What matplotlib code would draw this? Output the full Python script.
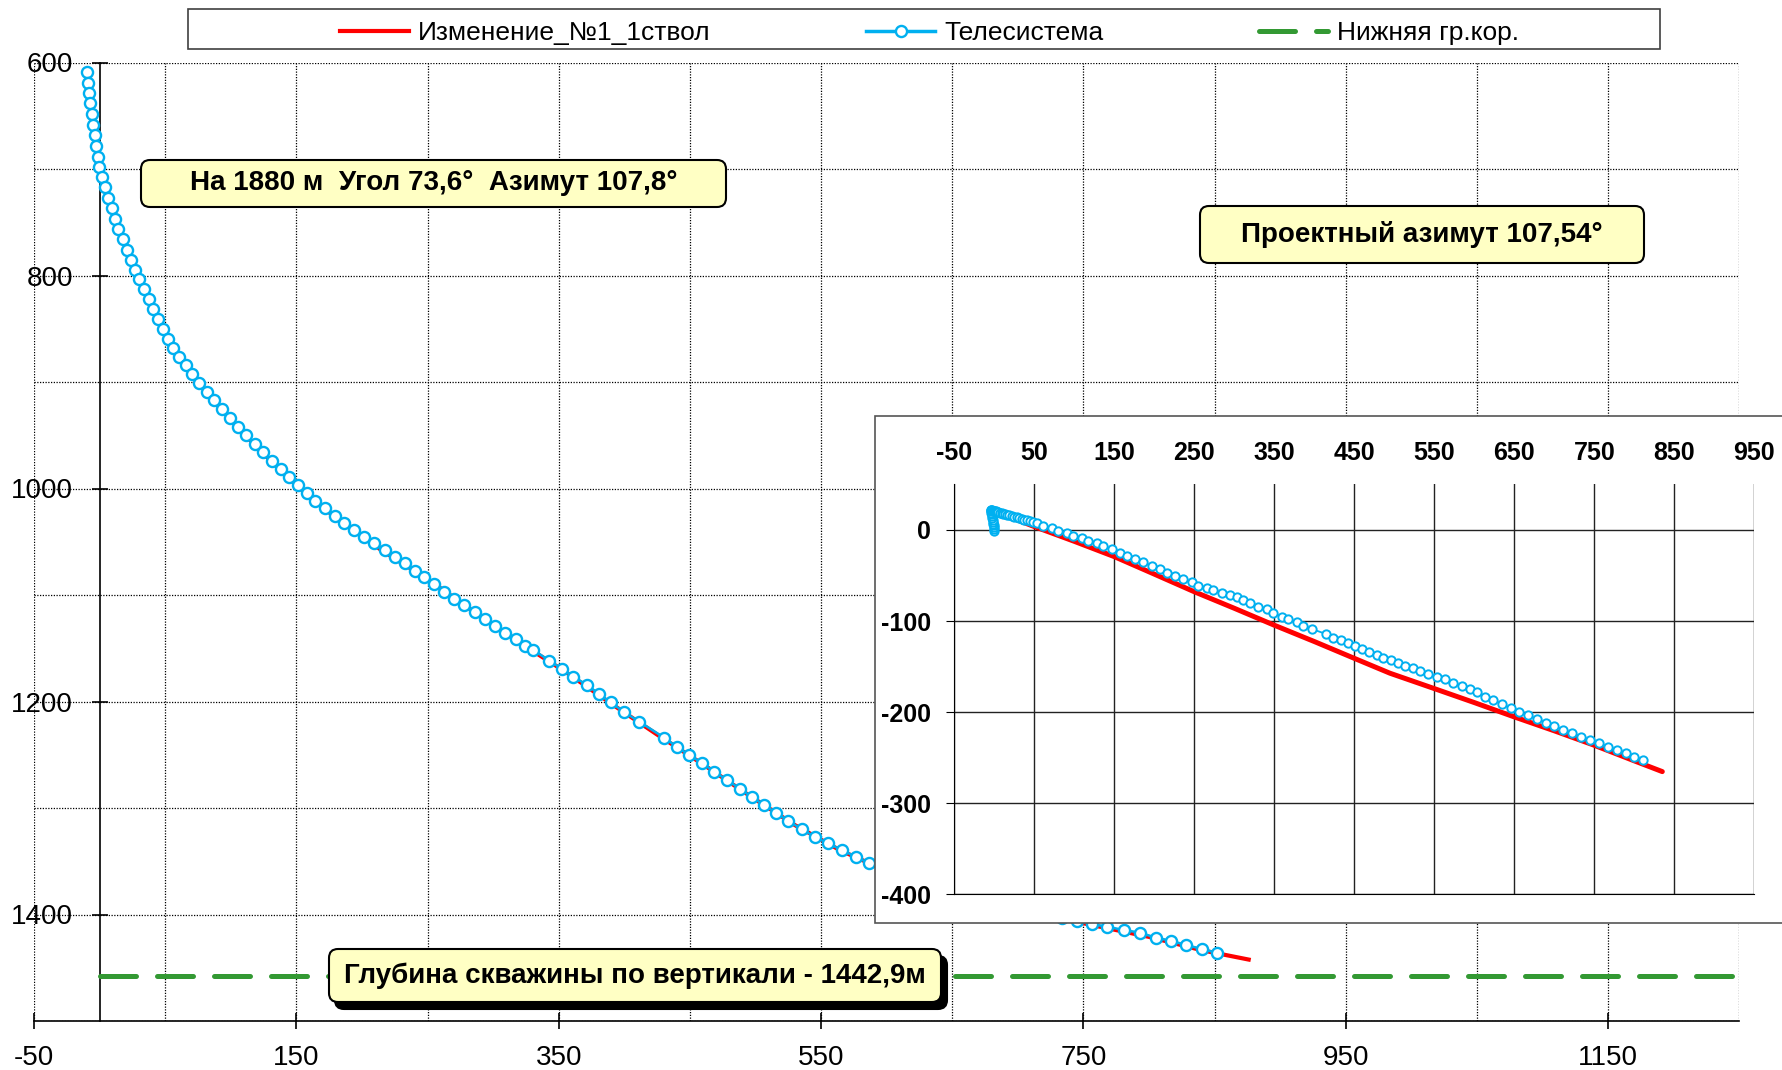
import matplotlib
matplotlib.use("Agg")
import matplotlib.pyplot as plt
import matplotlib.font_manager as fm
from matplotlib.patches import Rectangle, FancyBboxPatch
from matplotlib.lines import Line2D
from matplotlib.transforms import IdentityTransform

# Vertical section: horizontal displacement (m) vs TVD (m)
tele_vs = [-9.8, -9.1, -8.3, -7.3, -6.0, -4.8, -3.8, -2.7, -1.4, -0.2, 2.1, 4.1, 6.2, 9.2, 11.8, 14.3,
           17.6, 20.7, 24.0, 27.0, 30.3, 33.9, 37.7, 41.0, 44.8, 48.1, 52.4, 56.2, 60.8,
           65.7, 70.8, 76.1, 81.6, 87.3, 93.2, 99.3, 105.6, 112.0,
           118.5, 124.8, 131.2, 138.1, 144.4, 151.0, 157.9, 164.5, 171.9, 179.5, 186.6, 194.2, 201.8,
           209.4, 217.4, 225.2, 232.8, 240.5, 247.6, 255.2, 262.8, 270.4, 278.0, 286.2, 293.8, 301.5,
           309.3, 317.2, 324.6, 330.7, 342.9, 352.3, 361.1, 371.8, 380.7,
           389.6, 400.0, 411.5, 430.5, 440.0, 449.6, 459.5, 468.6, 478.3, 488.2, 497.1, 506.5, 515.7,
           525.0, 535.3, 545.4, 555.1, 565.8, 576.7, 586.8,
           598.1, 609.4, 620.7, 632.0, 643.3, 654.6, 665.9, 677.2, 688.5, 699.8, 711.1, 722.4, 733.7, 745.0,
           756.4, 768.3, 781.0, 793.2, 805.2, 816.6, 828.3, 840.2, 851.7]
tele_tvd = [608.6, 619.0, 628.9, 638.3, 648.4, 658.4, 668.4, 678.4, 688.5, 698.4, 707.8, 717.2, 727.2, 736.9,
            746.7, 756.3, 766.0, 776.0, 785.4, 794.8, 803.6, 813.0, 822.3, 831.7, 841.1, 850.5, 859.9, 868.4, 876.2,
            884.4, 892.6, 900.8, 909.0, 917.2, 925.4, 933.6, 941.8, 950.0,
            958.2, 966.0, 973.9, 982.0, 989.5, 996.7, 1004.5, 1011.5, 1018.6, 1025.5, 1032.1, 1039.0, 1045.3,
            1051.5, 1058.0, 1064.0, 1070.2, 1077.2, 1083.4, 1090.0, 1096.9, 1103.5, 1109.7, 1116.3, 1122.5, 1129.1,
            1135.4, 1141.3, 1147.6, 1151.6, 1161.7, 1169.2, 1176.7, 1184.5, 1193.0,
            1200.8, 1210.0, 1219.0, 1234.0, 1242.4, 1250.2, 1258.0, 1265.9, 1273.7, 1281.9, 1289.4, 1297.2, 1304.4,
            1312.0, 1320.0, 1327.0, 1333.2, 1339.4, 1346.0, 1352.0,
            1357.9, 1363.2, 1368.1, 1372.6, 1376.8, 1380.6, 1384.2, 1387.6, 1390.9, 1394.1, 1397.2, 1400.3, 1403.2, 1406.1,
            1409.0, 1411.5, 1414.6, 1417.0, 1421.8, 1424.6, 1428.6, 1432.4, 1435.9]

plan_vs = [-9.9, -9.0, -6.5, -3.0, 0.5, 5.0, 12.0, 20.0, 30.0, 42.0, 55.0, 68.0, 85.0, 105.0, 125.0, 150.0,
           180.0, 215.0, 250.0, 285.0, 320.0, 355.0, 390.0, 425.0, 460.0, 495.0, 530.0, 565.0, 600.0,
           640.0, 680.0, 720.0, 760.0, 800.0, 840.0, 877.6]
plan_tvd = [607.0, 620.0, 645.0, 675.0, 700.0, 720.0, 745.0, 772.0, 803.5, 835.0, 866.5, 889.5, 915.0, 942.5,
            967.5, 997.0, 1027.5, 1058.0, 1085.0, 1115.5, 1144.5, 1172.0, 1202.0, 1231.0, 1259.0, 1288.0,
            1316.0, 1340.0, 1359.0, 1377.0, 1389.5, 1400.5, 1410.8, 1421.0, 1433.5, 1442.7]

bound_vs = [0, 1250]
bound_tvd = [1457.5, 1457.5]

# Plan view: east (m) vs north (m)
tele_e = [0.0, -0.3, -0.6, -1.0, -1.4, -1.8, -2.2, -2.6, -3.0, -3.4, -3.8, -4.2, -4.3, -3.6, -2.8, -1.9,
          -0.6, 0.5, 1.5, 2.5, 3.8, 4.9, 7.1, 9.0, 11.0, 13.9, 16.4, 18.8, 21.9, 24.9, 28.0, 30.9, 34.0,
          37.5, 41.1, 44.3, 47.9,
          52.9, 61.3, 71.7, 80.0, 90.4, 98.8, 109.2, 117.5, 127.9, 136.3, 146.7, 157.1, 165.4, 175.9,
          186.3, 196.7, 207.1, 215.4, 225.9, 236.3, 246.7, 255.0, 265.4, 273.8, 284.2, 294.6, 302.9,
          311.3, 319.6, 330.0, 340.4, 348.8, 359.2, 367.5, 378.1,
          386.3, 396.7, 414.6, 423.8, 433.4, 442.5, 450.9, 460.0, 468.8, 477.9, 486.3, 495.4, 504.2,
          513.4, 522.9, 532.1, 542.5, 552.9, 563.4, 573.8, 584.2, 594.6, 603.8, 613.4, 623.8, 634.2,
          645.4, 656.3, 667.5, 677.9, 689.6, 700.0, 711.3, 721.7, 733.0, 744.6, 755.9, 766.7, 778.0,
          789.2, 800.0, 811.3]
tele_n = [-1.0, 1.0, 3.0, 5.0, 7.0, 9.0, 11.0, 13.0, 15.0, 17.0, 19.0, 21.0, 22.0, 21.8, 21.6, 21.3,
          21.0, 20.7, 20.5, 20.2, 19.9, 19.6, 19.0, 18.5, 18.0, 17.3, 16.7, 16.1, 15.3, 14.6, 13.8, 13.0,
          12.2, 11.3, 10.4, 9.6, 8.7,
          7.3, 4.8, 1.8, -0.7, -3.7, -6.2, -9.1, -11.7, -14.6, -17.6, -21.2, -24.9, -28.5, -31.8,
          -35.5, -39.5, -43.2, -46.8, -50.1, -53.8, -57.4, -61.1, -63.3, -65.9, -68.8, -71.3, -73.9,
          -76.8, -79.8, -84.9, -87.1, -91.5, -95.1, -98.0, -101.3,
          -105.0, -108.7, -114.2, -118.2, -121.1, -124.4, -127.3, -130.6, -133.9, -137.2, -140.5, -142.7,
          -146.0, -149.3, -151.8, -154.8, -158.1, -161.0, -163.9, -168.3, -171.2, -174.9, -178.2, -182.9,
          -186.6, -191.0, -195.8, -199.8, -203.4, -207.8, -211.5, -215.1, -219.5, -222.8, -226.9, -230.5,
          -234.2, -237.8, -241.5, -245.1, -248.8, -252.5]

plan_e = [0.0, -1.0, -2.0, -3.0, -3.5, -3.0, 0.0, 10.0, 20.0, 30.0, 50.0, 100.0, 150.0, 200.0, 249.6,
          300.0, 349.2, 400.0, 449.6, 494.6, 548.8, 600.0, 648.8, 700.0, 748.8, 800.0, 835.0]
plan_n = [0.0, 5.0, 10.0, 15.0, 19.0, 20.5, 19.5, 16.5, 13.5, 10.5, 3.7, -12.5, -29.3, -48.5, -67.7,
          -86.0, -104.3, -122.5, -140.8, -157.3, -173.8, -189.5, -204.9, -220.5, -236.0, -253.5, -265.3]

series_names = ["Изменение_№1_1ствол", "Телесистема", "Нижняя гр.кор."]
note_top = "На 1880 м  Угол 73,6°  Азимут 107,8°"
note_az = "Проектный азимут 107,54°"
note_depth = "Глубина скважины по вертикали - 1442,9м"

RED = "#FF0000"
BLUE = "#00B0F0"
GREEN = "#339933"
YELLOW = "#FFFFC4"

names = {f.name for f in fm.fontManager.ttflist}
narrow = "Liberation Sans Narrow" if "Liberation Sans Narrow" in names else "Liberation Sans"
plt.rcParams["font.family"] = [narrow, "DejaVu Sans"]
plt.rcParams["axes.unicode_minus"] = False

W, H = 1783, 1070
fig = plt.figure(figsize=(W / 100, H / 100), dpi=100)

# main chart
ax = fig.add_axes([34 / W, 1 - 1021 / H, 1705.2 / W, 958.5 / H], zorder=0)
ax.plot(plan_vs, plan_tvd, color=RED, lw=3, solid_capstyle="butt", zorder=3)
ax.plot(tele_vs, tele_tvd, color=BLUE, lw=1.8, marker="o", ms=8, mfc="white", mec=BLUE, mew=1.7, zorder=4)
ax.plot(bound_vs, bound_tvd, color=GREEN, lw=3.6, dashes=(7.2, 4.2), dash_capstyle="round", zorder=3)

ax.set_xlim(-50, 1250)
ax.set_ylim(1500, 600)
ax.set_xticks(range(-50, 1151, 200))
ax.set_xticks(range(50, 1251, 200), minor=True)
ax.set_yticks(range(600, 1401, 200))
ax.set_yticks(range(700, 1501, 200), minor=True)
ax.grid(which="both", color="black", linestyle=(0, (1, 1.2)), linewidth=0.9)
ax.set_axisbelow(True)
for s in ["top", "right"]:
    ax.spines[s].set_visible(False)
ax.spines["left"].set_position(("data", 0))
ax.spines["left"].set_linewidth(1.2)
ax.spines["bottom"].set_linewidth(1.2)
ax.tick_params(which="major", direction="inout", length=12, width=1.2, labelsize=20)
ax.tick_params(axis="x", which="major", pad=11)
ax.tick_params(axis="y", which="major", pad=13)
ax.tick_params(which="minor", length=0)

# inset panel with plan view
fig.add_artist(Rectangle((874.5, 1070 - 923), 1000, 507, transform=IdentityTransform(),
                         facecolor="white", edgecolor="#555555", lw=1.2, zorder=2))
ax2 = fig.add_axes([954.3 / W, 1 - 894.3 / H, 800 / W, 409.9 / H], zorder=3)
ax2.plot(plan_e, plan_n, color=RED, lw=3.6, solid_capstyle="round", solid_joinstyle="round", zorder=3)
ax2.plot(tele_e, tele_n, color=BLUE, lw=1.3, marker="o", ms=6, mfc="white", mec=BLUE, mew=1.4, zorder=4)
ax2.set_xlim(-50, 950)
ax2.set_ylim(-400, 50)
ax2.set_xticks(range(-50, 951, 100))
ax2.set_yticks(range(-400, 1, 100))
ax2.grid(color="#222222", lw=1.0)
ax2.set_axisbelow(True)
for s in ["top", "right"]:
    ax2.spines[s].set_visible(False)
ax2.tick_params(axis="x", top=True, labeltop=True, bottom=False, labelbottom=False, length=0, pad=14)
ax2.tick_params(axis="y", direction="out", length=5.5, pad=11.5)
for lab in ax2.get_xticklabels() + ax2.get_yticklabels():
    lab.set_fontsize(18)
    lab.set_fontweight("bold")


def note_box(x0, y0, x1, y1, text, shadow=False):
    if shadow:
        fig.add_artist(FancyBboxPatch((x0 + 6, H - y1 - 7), x1 - x0, y1 - y0,
                                      boxstyle="round,pad=0,rounding_size=9", transform=IdentityTransform(),
                                      facecolor="black", edgecolor="black", lw=1.5, zorder=4))
    fig.add_artist(FancyBboxPatch((x0, H - y1), x1 - x0, y1 - y0,
                                  boxstyle="round,pad=0,rounding_size=9", transform=IdentityTransform(),
                                  facecolor=YELLOW, edgecolor="black", lw=1.5, zorder=5))
    fig.text((x0 + x1) / 2 / W, 1 - (y0 + y1) / 2 / H, text, ha="center", va="center",
             fontsize=20, fontweight="bold", zorder=6)


note_box(141, 160, 726, 207, note_top)
note_box(1200, 206, 1644, 263, note_az)
note_box(329, 949, 941, 1002, note_depth, shadow=True)

# legend
fig.add_artist(Rectangle((188, H - 49), 1472, 40, transform=IdentityTransform(),
                         facecolor="white", edgecolor="#404040", lw=1.2, zorder=6))
handles = [Line2D([], [], color=RED, lw=3),
           Line2D([], [], color=BLUE, lw=2.5, marker="o", ms=8, mfc="white", mec=BLUE, mew=1.7),
           Line2D([], [], color=GREEN, lw=3.6, dashes=(7.2, 4.2), dash_capstyle="round")]
leg = fig.legend(handles, series_names, loc="center", bbox_to_anchor=(0.5213, 0.969), ncol=3,
                 frameon=False, fontsize=19, handlelength=2.6, handletextpad=0.35, columnspacing=5.9)
leg.set_zorder(7)

fig.savefig("out.png", dpi=100)
